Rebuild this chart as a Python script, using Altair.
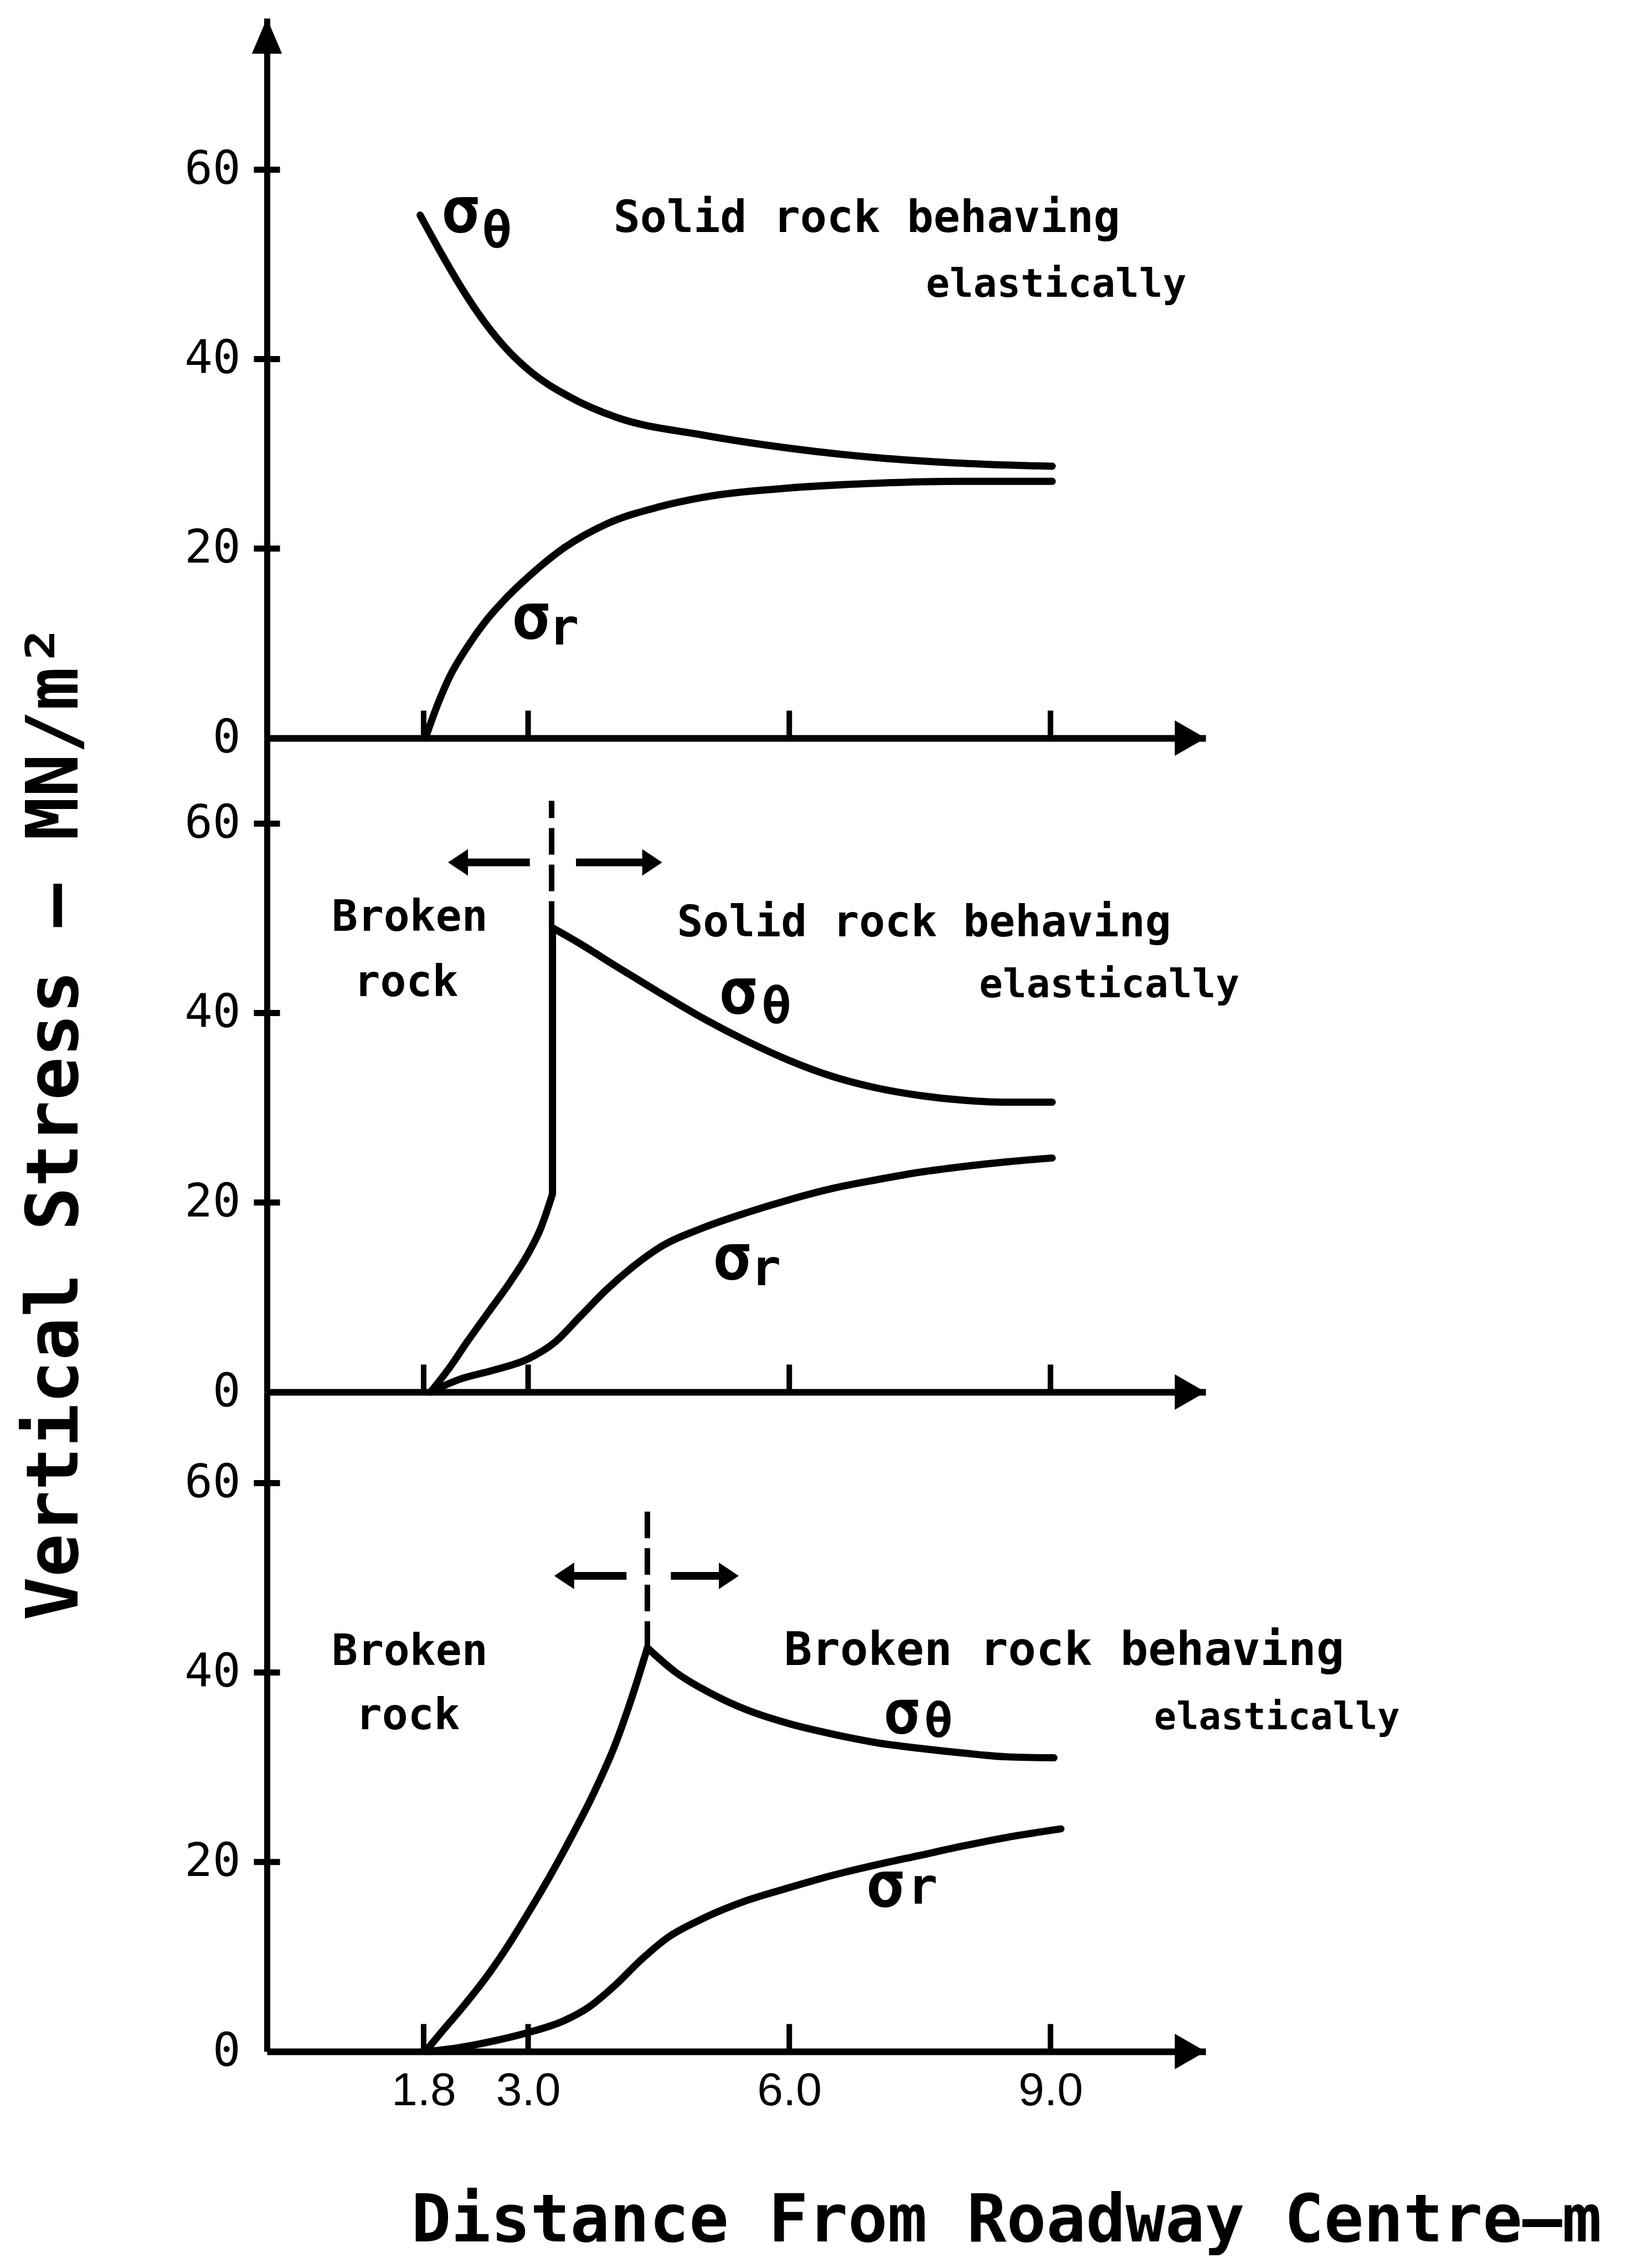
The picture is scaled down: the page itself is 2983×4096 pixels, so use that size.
import altair as alt
import pandas as pd

# ---------------- values ----------------
# x: distance from roadway centre (m), y: vertical stress (MN/m2)
P1_THETA_X = [1.76, 2.00, 2.25, 2.50, 2.75, 3.00, 3.50, 4.00, 5.00, 6.00, 7.00, 8.00, 9.02]
P1_THETA_Y = [55.2, 51.2, 47.3, 43.9, 41.1, 38.9, 35.9, 33.9, 32.0, 30.6, 29.6, 29.0, 28.7]
P1_R_X = [1.82, 1.95, 2.10, 2.30, 2.50, 2.75, 3.00, 3.40, 3.90, 4.50, 5.00, 6.00, 7.00, 8.00, 9.02]
P1_R_Y = [0.0, 3.3, 6.5, 9.6, 12.2, 14.8, 17.0, 20.0, 22.6, 24.4, 25.4, 26.4, 26.9, 27.1, 27.1]

P2_BROKEN_X = [1.88, 2.10, 2.30, 2.55, 2.80, 3.00, 3.15, 3.28]
P2_BROKEN_Y = [0.0, 2.6, 5.3, 8.5, 11.7, 14.6, 17.4, 20.9]
P2_THETA_X = [3.28, 3.60, 4.00, 4.50, 5.00, 5.50, 6.00, 6.50, 7.00, 7.50, 8.00, 8.50, 9.02]
P2_THETA_Y = [49.0, 47.3, 45.0, 42.2, 39.5, 37.1, 35.0, 33.3, 32.1, 31.3, 30.8, 30.6, 30.6]
P2_R_X = [1.88, 2.20, 2.60, 3.00, 3.30, 3.60, 3.90, 4.20, 4.50, 5.00, 5.50, 6.00, 6.50, 7.00,
          7.50, 8.00, 8.50, 9.02]
P2_R_Y = [0.0, 1.3, 2.3, 3.5, 5.2, 8.0, 10.8, 13.2, 15.2, 17.3, 18.9, 20.3, 21.5, 22.4,
          23.2, 23.8, 24.3, 24.7]
P2_JUMP = [3.28, 20.9, 49.0]          # x, from, to

P3_RISE_X = [1.82, 2.00, 2.25, 2.50, 2.75, 3.00, 3.25, 3.50, 3.75, 4.00, 4.20, 4.37]
P3_RISE_Y = [0.0, 2.0, 4.7, 7.6, 10.9, 14.6, 18.5, 22.7, 27.2, 32.4, 37.6, 42.6]
P3_THETA_X = [4.37, 4.70, 5.10, 5.50, 6.00, 6.50, 7.00, 7.50, 8.00, 8.50, 9.04]
P3_THETA_Y = [42.6, 40.0, 37.8, 36.1, 34.6, 33.5, 32.6, 32.0, 31.5, 31.1, 31.0]
P3_R_X = [1.85, 2.20, 2.60, 3.00, 3.40, 3.70, 4.00, 4.30, 4.60, 5.00, 5.50, 6.00, 6.50, 7.00,
          7.50, 8.00, 8.50, 9.12]
P3_R_Y = [0.0, 0.4, 1.1, 2.0, 3.2, 4.7, 7.0, 9.7, 12.0, 14.0, 15.9, 17.3, 18.6, 19.7,
          20.7, 21.7, 22.6, 23.5]

X_TICKS = [1.8, 3.0, 6.0, 9.0]
Y_TICKS = [0, 20, 40, 60]
Y_MARKS = [20, 40, 60]
X_TITLE = "Distance From Roadway Centre—m"
Y_TITLE = "Vertical Stress — MN/m²"

# zone boundary (dashed) lines: panel, x, y from, y to
BOUNDARIES = [(1, 3.27, 49.0, 62.4), (2, 4.37, 42.6, 58.0)]
# double arrows at boundary: panel, y, left (inner, tip), right (inner, tip)
ARROWS = [(1, 55.9, 3.02, 2.08, 3.55, 4.54), (2, 50.2, 4.13, 3.30, 4.64, 5.42)]

# left-aligned labels: panel, text, x, y, font size
LEFT_TEXT = [
    (0, "Solid rock behaving", 3.98, 53.4, 80), (0, "elastically", 7.57, 46.6, 71),
    (1, "Solid rock behaving", 4.71, 48.1, 78), (1, "elastically", 8.18, 41.7, 71),
    (2, "Broken rock behaving", 5.94, 40.8, 84), (2, "elastically", 10.19, 34.0, 67),
    (0, "σ", 2.00, 53.4, 116), (0, "σ", 2.81, 10.5, 116),
    (1, "σ", 5.19, 40.0, 116), (1, "σ", 5.12, 11.9, 116),
    (2, "σ", 7.08, 33.6, 110), (2, "σ", 6.88, 15.3, 116),
    (0, "θ", 2.47, 51.8, 90), (0, "r", 3.24, 9.9, 90),
    (1, "θ", 5.68, 38.9, 90), (1, "r", 5.56, 11.3, 90),
    (2, "θ", 7.55, 33.2, 86), (2, "r", 7.36, 15.6, 90),
]
# centred labels: panel, text, x, y, font size
CENTER_TEXT = [
    (1, "Broken", 1.64, 48.7, 78), (1, "rock", 1.60, 41.8, 78),
    (2, "Broken", 1.64, 40.8, 78), (2, "rock", 1.62, 34.0, 78),
]

# ---------------- layout constants (output px) ----------------
XPX = 157.2          # px per metre
YPX = 17.11          # px per MN/m2
W = 1695
HEIGHTS = [1300, 1181, 1191]
X_MAX = W / XPX

HEAD_R = "M -0.75 -1 L 0.75 0 L -0.75 1 Z"
HEAD_L = "M 0.75 -1 L -0.75 0 L 0.75 1 Z"
AX_R = "M -0.87 -1 L 0.87 0 L -0.87 1 Z"
AX_U = "M 0 -1 L 0.85 1 L -0.85 1 Z"
HEAD_SIZE = 48 * 48
AX_SIZE = 64 * 64

rows = []
def add(panel, name, xs, ys):
    for i, (a, b) in enumerate(zip(xs, ys)):
        rows.append(dict(panel=panel, series=name, i=i, x=a, y=b))

add(0, "theta", P1_THETA_X, P1_THETA_Y)
add(0, "r", P1_R_X, P1_R_Y)
add(1, "broken", P2_BROKEN_X, P2_BROKEN_Y)
add(1, "theta", P2_THETA_X, P2_THETA_Y)
add(1, "r", P2_R_X, P2_R_Y)
add(2, "rise", P3_RISE_X, P3_RISE_Y)
add(2, "theta", P3_THETA_X, P3_THETA_Y)
add(2, "r", P3_R_X, P3_R_Y)
lines_df = pd.DataFrame(rows)

FONT = "DejaVu Sans Mono"


def panel(k):
    H = HEIGHTS[k]
    ymax = H / YPX
    xs = alt.Scale(domain=[0, X_MAX], nice=False, zero=False)
    ys = alt.Scale(domain=[0, ymax], nice=False, zero=False)
    xa = dict(values=X_TICKS, ticks=False, tickSize=0, grid=False, labels=(k == 2),
              domainColor="black", domainWidth=12, domainCap="butt")
    if k == 2:
        xa.update(format=".1f", labelFont="Liberation Sans", labelFontSize=84,
                  labelColor="black", labelPadding=30, labelOverlap=False, labelFlush=False,
                  titleFont=FONT, titleFontSize=119, titleFontWeight="bold", titleColor="black",
                  titleX=1335, titleY=342, titleAlign="center", titleBaseline="alphabetic",
                  titleAngle=0)
    ya = dict(values=Y_TICKS, ticks=False, tickSize=0, grid=False, labelFont=FONT,
              labelFontSize=84, labelColor="black", labelPadding=48,
              domainColor="black", domainWidth=11, labelOverlap=False)
    if k == 1:
        ya.update(titleFont=FONT, titleFontSize=130, titleFontWeight="bold", titleColor="black",
                  titleX=-382, titleY=693, titleAngle=-90, titleAlign="center",
                  titleBaseline="middle")
    xaxis = alt.Axis(**xa)
    yaxis = alt.Axis(**ya)
    xt = X_TITLE if k == 2 else None
    yt = Y_TITLE if k == 1 else None

    def ex(f):
        return alt.X(f"{f}:Q", scale=xs, axis=xaxis, title=xt)

    def ey(f):
        return alt.Y(f"{f}:Q", scale=ys, axis=yaxis, title=yt)

    layers = []
    ldf = lines_df[lines_df.panel == k]
    layers.append(alt.Chart(ldf).mark_line(color="black", strokeWidth=13, interpolate="monotone",
                                            strokeCap="round", strokeJoin="round").encode(
        x=ex("x"), y=ey("y"), detail="series:N", order="i:Q"))

    xt_df = pd.DataFrame(dict(x=X_TICKS, y0=[0] * 4, y1=[2.9] * 4))
    layers.append(alt.Chart(xt_df).mark_rule(color="black", strokeWidth=10).encode(
        x=ex("x"), y=ey("y0"), y2="y1"))

    yt_df = pd.DataFrame(dict(y=Y_MARKS, x0=[-0.15] * 3, x1=[0.15] * 3))
    layers.append(alt.Chart(yt_df).mark_rule(color="black", strokeWidth=11).encode(
        x=ex("x0"), x2="x1", y=ey("y")))

    bd = [b for b in BOUNDARIES if b[0] == k]
    if bd:
        bdf = pd.DataFrame([dict(x=b[1], y0=b[2], y1=b[3]) for b in bd])
        layers.append(alt.Chart(bdf).mark_rule(color="black", strokeWidth=10, strokeDash=[48, 18]).encode(
            x=ex("x"), y=ey("y0"), y2="y1"))
    if k == 1:
        jdf = pd.DataFrame([dict(x=P2_JUMP[0], y0=P2_JUMP[1], y1=P2_JUMP[2])])
        layers.append(alt.Chart(jdf).mark_rule(color="black", strokeWidth=13).encode(
            x=ex("x"), y=ey("y0"), y2="y1"))

    heads = []
    ar = [a for a in ARROWS if a[0] == k]
    if ar:
        sh = []
        for _, y, li, lt, ri, rt in ar:
            sh.append(dict(x0=li, x1=lt + 0.1, y=y))
            sh.append(dict(x0=ri, x1=rt - 0.1, y=y))
            heads.append(dict(x=lt + 18 / XPX, y=y, shape=HEAD_L, size=HEAD_SIZE))
            heads.append(dict(x=rt - 18 / XPX, y=y, shape=HEAD_R, size=HEAD_SIZE))
        layers.append(alt.Chart(pd.DataFrame(sh)).mark_rule(color="black", strokeWidth=14).encode(
            x=ex("x0"), x2="x1", y=ey("y")))
    heads.append(dict(x=X_MAX - 0.87 * 32 / XPX, y=0.0, shape=AX_R, size=AX_SIZE))
    if k == 0:
        heads.append(dict(x=0.0, y=ymax - 32 / YPX, shape=AX_U, size=AX_SIZE))
    layers.append(alt.Chart(pd.DataFrame(heads)).mark_point(
        filled=True, opacity=1, color="black", strokeWidth=0).encode(
        x=ex("x"), y=ey("y"), shape=alt.Shape("shape:N", scale=None),
        size=alt.Size("size:Q", scale=None)))

    def txt(items, align):
        d = [dict(x=a[2], y=a[3], t=a[1], s=a[4]) for a in items if a[0] == k]
        if not d:
            return
        layers.append(alt.Chart(pd.DataFrame(d)).mark_text(
            font=FONT, fontWeight="bold", color="black", baseline="alphabetic", align=align).encode(
            x=ex("x"), y=ey("y"), text="t:N", size=alt.Size("s:Q", scale=None)))

    txt(LEFT_TEXT, "left")
    txt(CENTER_TEXT, "center")

    return alt.layer(*layers).properties(width=W, height=H)


chart = alt.vconcat(panel(0), panel(1), panel(2), spacing=0, bounds="flush").properties(
    padding={"left": 26, "top": 24, "right": 40, "bottom": 30},
    background="white",
).configure_view(stroke=None)

chart.save("out.html", embed_options={"renderer": "svg", "actions": False})
